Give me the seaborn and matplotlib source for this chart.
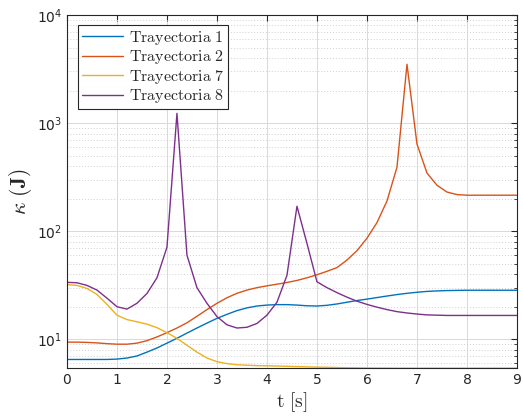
import numpy as np
import pandas as pd
import matplotlib
matplotlib.use("Agg")
import matplotlib.pyplot as plt
import seaborn as sns
from matplotlib.ticker import LogLocator, FixedLocator, NullFormatter

t = [round(0.2 * i, 1) for i in range(46)]

tray1 = [6.5, 6.5, 6.5, 6.5, 6.5, 6.55, 6.7, 7.0, 7.6, 8.3,
         9.2, 10.2, 11.4, 12.7, 14.1, 15.6, 17.0, 18.4, 19.5, 20.3,
         20.7, 20.9, 20.9, 20.7, 20.4, 20.3, 20.6, 21.2, 22.0, 22.8,
         23.5, 24.3, 25.1, 25.9, 26.6, 27.2, 27.7, 28.0, 28.2, 28.3,
         28.4, 28.4, 28.4, 28.4, 28.4, 28.4]
tray2 = [9.4, 9.4, 9.35, 9.25, 9.1, 9.0, 9.0, 9.2, 9.7, 10.5,
         11.5, 12.7, 14.2, 16.3, 18.8, 21.5, 24.2, 26.6, 28.5, 30.0,
         31.2, 32.3, 33.5, 35.0, 37.0, 39.5, 42.5, 46.0, 54.0, 66.0,
         86.0, 120.0, 190.0, 390.0, 3500.0, 640.0, 345.0, 266.0, 230.0, 218.0,
         215.0, 215.0, 215.0, 215.0, 215.0, 215.0]
tray7 = [32.0, 31.5, 29.5, 26.0, 21.0, 16.7, 15.2, 14.5, 13.8, 12.8,
         11.5, 10.2, 8.8, 7.6, 6.7, 6.2, 5.95, 5.8, 5.75, 5.7,
         5.68, 5.65, 5.62, 5.58, 5.55, 5.52, 5.5, 5.47, 5.45, 5.43,
         5.42, 5.41, 5.41, 5.4, 5.4, 5.4, 5.4, 5.4, 5.4, 5.4,
         5.4, 5.4, 5.4, 5.4, 5.4, 5.4]
tray8 = [33.6, 33.3, 31.5, 28.5, 24.0, 20.0, 19.0, 21.5, 26.5, 37.0,
         71.0, 1230.0, 60.0, 30.0, 21.5, 16.2, 13.6, 12.7, 12.9, 14.0,
         16.7, 22.0, 39.0, 170.0, 77.0, 34.0, 30.0, 27.0, 24.5, 22.5,
         21.0, 19.8, 18.8, 18.0, 17.5, 17.1, 16.8, 16.7, 16.6, 16.6,
         16.6, 16.6, 16.6, 16.6, 16.6, 16.6]

names = ["Trayectoria 1", "Trayectoria 2", "Trayectoria 7", "Trayectoria 8"]
colors = ["#0072BD", "#D95319", "#EDB120", "#7E2F8E"]

frames = []
for n, v in zip(names, [tray1, tray2, tray7, tray8]):
    frames.append(pd.DataFrame({"t": t, "k": v, "serie": n}))
df = pd.concat(frames, ignore_index=True)

sns.set_style("white")
plt.rcParams["mathtext.fontset"] = "cm"
plt.rcParams["font.family"] = ["DejaVu Sans"]

fig = plt.figure(figsize=(5.23, 4.16), dpi=100)
ax = fig.add_axes([0.128, 0.115, 0.8605, 0.849])

sns.lineplot(data=df, x="t", y="k", hue="serie", palette=colors,
             linewidth=1.0, ax=ax, legend=False)
ax.set_yscale("log")
ax.set_xlim(0, 9)
ax.set_ylim(5.4, 1e4)
ax.xaxis.set_major_locator(FixedLocator(list(range(10))))
ax.yaxis.set_major_locator(LogLocator(base=10, numticks=10))
ax.yaxis.set_minor_locator(LogLocator(base=10, subs=np.arange(2, 10), numticks=10))
ax.yaxis.set_minor_formatter(NullFormatter())

ax.grid(True, which="major", color="#d9d9d9", linewidth=0.7, linestyle="-")
ax.grid(True, which="minor", axis="y", color="#d0d0d0", linewidth=0.7, linestyle=(0, (1, 2)))
ax.set_axisbelow(True)

for s in ax.spines.values():
    s.set_color("#262626")
    s.set_linewidth(0.8)
ax.tick_params(axis="both", which="both", direction="in", colors="#262626",
               labelsize=10, top=True, right=True)
ax.tick_params(which="major", length=4)
ax.tick_params(which="minor", length=2)

ax.set_xlabel(r"$\mathrm{t}\ [\mathrm{s}]$", fontsize=14, labelpad=2)
ax.set_ylabel(r"$\kappa\ (\mathbf{J})$", fontsize=15.5, labelpad=2)

handles = [plt.Line2D([], [], color=c, linewidth=1.0) for c in colors]
labels = [r"$\mathrm{Trayectoria\ %s}$" % n.split()[-1] for n in names]
leg = ax.legend(handles, labels, loc="upper left", bbox_to_anchor=(0.024, 0.973),
                fontsize=11.5, frameon=True, fancybox=False, framealpha=1,
                edgecolor="#262626", handlelength=2.6, borderpad=0.25,
                labelspacing=0.1, handletextpad=0.35, borderaxespad=0)
leg.get_frame().set_linewidth(0.8)

fig.savefig("out.png", dpi=100)
